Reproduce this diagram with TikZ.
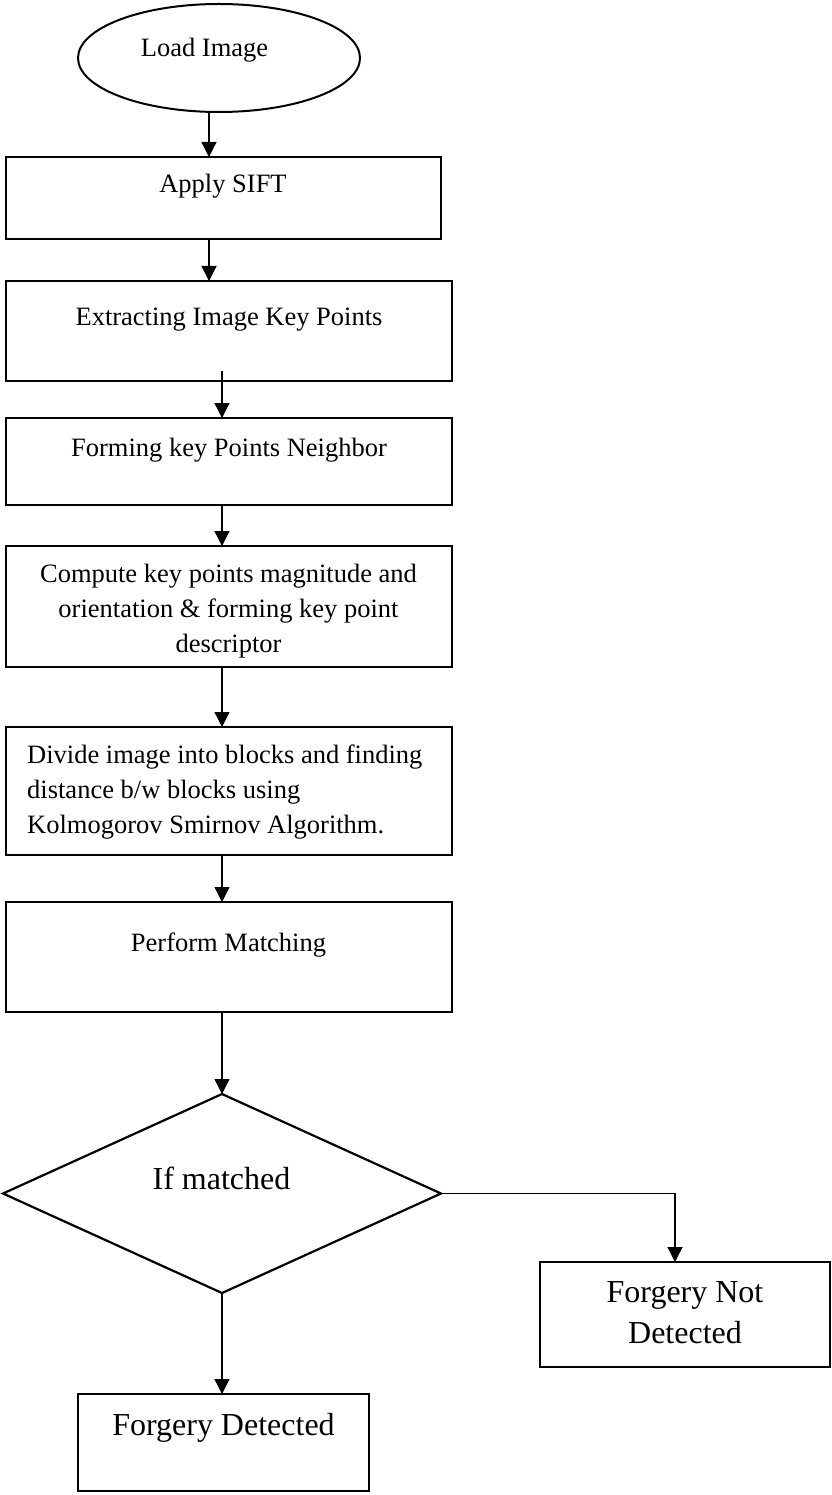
\documentclass[tikz,border=0pt]{standalone}
\usepackage{fontspec}
\setmainfont{Liberation Serif}
\usetikzlibrary{shapes.geometric,arrows.meta}
\tikzset{
  boxshape/.style={draw, line width=2.2pt, rectangle, inner sep=0pt, outer sep=0pt},
  decshape/.style={draw, line width=2.2pt, diamond, inner sep=0pt, outer sep=0pt},
  ovalshape/.style={draw, line width=2pt, ellipse, inner sep=0pt, outer sep=0pt},
  txt/.style={inner sep=0pt, font=\fontsize{26.5}{35}\selectfont},
  bigtxt/.style={inner sep=0pt, font=\fontsize{32}{41}\selectfont},
  arr/.style={line width=1.3pt, -{Triangle[length=15pt,width=15pt]}},
  link/.style={line width=1.3pt}
}
\begin{document}
\begin{tikzpicture}[x=1pt,y=-1pt]
\useasboundingbox (0,0) rectangle (831,1495);
% shapes
\node[ovalshape, minimum width=282pt, minimum height=108pt] (load) at (219,58) {};
\node[boxshape, minimum width=435pt, minimum height=82pt] (sift) at (223.5,198) {};
\node[boxshape, minimum width=446pt, minimum height=100pt] (extract) at (229,331) {};
\node[boxshape, minimum width=446pt, minimum height=87pt] (forming) at (229,461.5) {};
\node[boxshape, minimum width=446pt, minimum height=121pt] (compute) at (229,606.5) {};
\node[boxshape, minimum width=446pt, minimum height=128pt] (divide) at (229,791) {};
\node[boxshape, minimum width=446pt, minimum height=110pt] (perform) at (229,957) {};
\node[decshape, minimum width=438pt, minimum height=199pt] (dec) at (222,1193.5) {};
\node[boxshape, minimum width=290pt, minimum height=105pt] (notdet) at (685,1314.5) {};
\node[boxshape, minimum width=291pt, minimum height=97pt] (det) at (223.5,1442.5) {};
% texts
\node[txt, anchor=base] (tload) at (204.5,57) {Load Image};
\node[txt, anchor=base] (tsift) at (223,193) {Apply SIFT};
\node[txt, anchor=base] (textract) at (229,325) {Extracting Image Key Points};
\node[txt, anchor=base] (tforming) at (229,456) {Forming key Points Neighbor};
\node[txt, align=center] (tcompute) at (228.5,611) {Compute key points magnitude and\\orientation \& forming key point\\descriptor};
\node[txt, align=left, anchor=west] (tdivide) at (27,792) {Divide image into blocks and finding\\distance b/w blocks using\\Kolmogorov Smirnov Algorithm.};
\node[txt, anchor=base] (tperform) at (228.5,951) {Perform Matching};
\node[bigtxt, anchor=base] (tdec) at (221.5,1189) {If matched};
\node[bigtxt, align=center] (tnotdet) at (685,1313) {Forgery Not\\Detected};
\node[bigtxt, anchor=base] (tdet) at (223.5,1435) {Forgery Detected};
% connectors
\draw[arr] (load.south -| 209,0) -- (sift.north -| 209,0);
\draw[arr] (sift.south -| 209,0) -- (extract.north -| 209,0);
\draw[arr] ([yshift=10pt]extract.south -| 222,0) -- (forming.north -| 222,0);
\draw[arr] (forming.south -| 222,0) -- (compute.north -| 222,0);
\draw[arr] (compute.south -| 222,0) -- (divide.north -| 222,0);
\draw[arr] (divide.south -| 222,0) -- (perform.north -| 222,0);
\draw[arr] (perform.south -| 222,0) -- (dec.north);
\draw[arr] (dec.south) -- (dec.south |- det.north);
\draw[arr] (dec.east) -| ([xshift=-10pt]notdet.north);
\end{tikzpicture}
\end{document}
